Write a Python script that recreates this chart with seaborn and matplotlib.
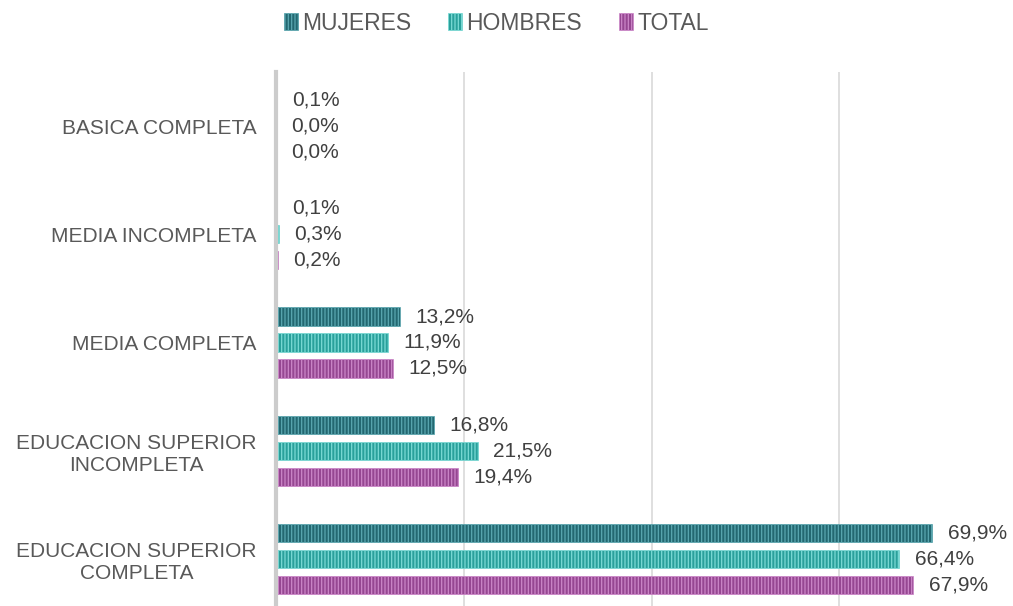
import matplotlib.pyplot as plt
import seaborn as sns
import numpy as np
import pandas as pd

categorias = ['BASICA COMPLETA', 'MEDIA INCOMPLETA', 'MEDIA COMPLETA',
              'EDUCACION SUPERIOR\nINCOMPLETA', 'EDUCACION SUPERIOR\nCOMPLETA']
mujeres = [0.1, 0.1, 13.2, 16.8, 69.9]
hombres = [0.0, 0.3, 11.9, 21.5, 66.4]
total = [0.0, 0.2, 12.5, 19.4, 67.9]
series = ['MUJERES', 'HOMBRES', 'TOTAL']

colores = ['#16727e', '#17b3ad', '#a33a9e']
rayas = ['#5aa7b0', '#7adad5', '#cc86c8']

df = pd.DataFrame({
    'categoria': categorias * 3,
    'serie': np.repeat(series, len(categorias)),
    'valor': mujeres + hombres + total,
})

sns.set_style('white')
plt.rcParams['font.family'] = ['Liberation Sans', 'DejaVu Sans']
plt.rcParams['hatch.linewidth'] = 0.9

fig = plt.figure(figsize=(10.13, 6.06), dpi=100)
ax = fig.add_axes([276 / 1013, -7 / 606, 1 - 276 / 1013, 541 / 606])

sns.barplot(data=df, y='categoria', x='valor', hue='serie', order=categorias,
            hue_order=series, palette=colores, orient='h', width=0.72,
            gap=0.3, ax=ax, legend=False)

for cont, raya, nombre in zip(ax.containers, rayas, series):
    for bar in cont:
        bar.set_hatch('|||||')
        bar.set_edgecolor(raya)
        bar.set_linewidth(0.5)
    ax.bar_label(cont, labels=[f'{v:.1f}%'.replace('.', ',') for v in cont.datavalues],
                 padding=11, fontsize=15, color='#404040')

ax.set_xlim(0, 78.5)
ax.set_xticks([0, 20, 40, 60])
ax.set_xticklabels([])
ax.xaxis.grid(True, color='#d9d9d9', linewidth=1.2)
ax.set_axisbelow(True)
ax.set_xlabel('')
ax.set_ylabel('')
ax.tick_params(axis='y', labelsize=15, labelcolor='#595959', length=0, pad=14)
for s in ['top', 'right', 'bottom']:
    ax.spines[s].set_visible(False)
ax.spines['left'].set_color('#cccccc')
ax.spines['left'].set_linewidth(3)
for t in ax.get_yticklabels():
    t.set_multialignment('center')

fig.legend([c.patches[0] for c in ax.containers], series, loc='upper center',
           bbox_to_anchor=(0.49, 1.015), ncol=3, frameon=False, fontsize=16.5,
           labelcolor='#595959', handlelength=0.6, handleheight=0.75,
           handletextpad=0.2, columnspacing=1.6)

fig.savefig('out.png', dpi=100)
